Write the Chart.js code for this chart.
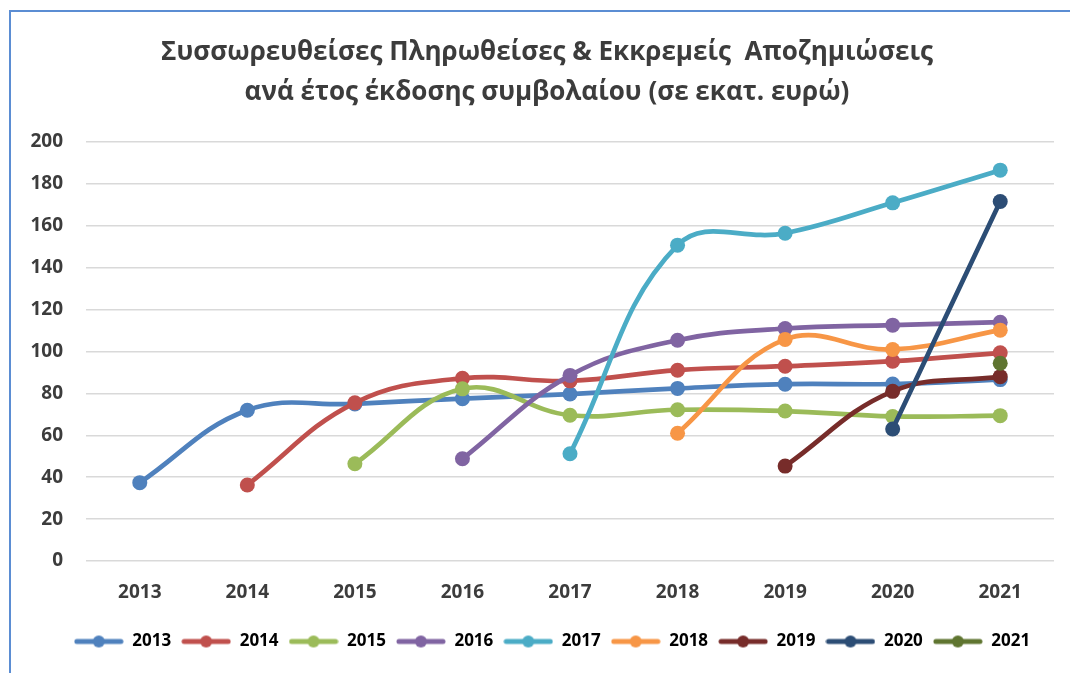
<!DOCTYPE html>
<html>
<head>
<meta charset="utf-8">
<script src="https://cdn.jsdelivr.net/npm/chart.js@4/dist/chart.umd.min.js"></script>
<style>
  html, body { margin: 0; padding: 0; background: #fff; }
  #wrap { position: relative; width: 1070px; height: 673px; }
  #frame {
    position: absolute; left: 9px; top: 10px; right: 0; bottom: 0;
    border-left: 2px solid #5b8dd3; border-top: 2px solid #5b8dd3;
    pointer-events: none;
  }
  canvas { position: absolute; left: 0; top: 0; }
</style>
</head>
<body>
<div id="wrap">
  <canvas id="my-chart" width="1070" height="673"></canvas>
  <div id="frame"></div>
</div>
<script>
const years = ["2013", "2014", "2015", "2016", "2017", "2018", "2019", "2020", "2021"];
const seriesNames = ["2013", "2014", "2015", "2016", "2017", "2018", "2019", "2020", "2021"];

// cumulative paid + outstanding per policy year (million EUR)
const s2013 = [37.4, 72.0, 75.0, 77.5, 79.7, 82.4, 84.4, 84.5, 86.6];
const s2014 = [null, 36.3, 75.5, 87.2, 86.0, 91.1, 93.0, 95.4, 99.4];
const s2015 = [null, null, 46.4, 82.2, 69.6, 72.2, 71.6, 69.0, 69.4];
const s2016 = [null, null, null, 48.8, 88.6, 105.4, 111.0, 112.6, 114.0];
const s2017 = [null, null, null, null, 51.2, 150.8, 156.5, 171.0, 186.6];
const s2018 = [null, null, null, null, null, 61.0, 105.8, 101.0, 110.2];
const s2019 = [null, null, null, null, null, null, 45.3, 81.0, 88.0];
const s2020 = [null, null, null, null, null, null, null, 63.0, 171.6];
const s2021 = [null, null, null, null, null, null, null, null, 94.4];

const allSeries = [s2013, s2014, s2015, s2016, s2017, s2018, s2019, s2020, s2021];
const colors = ["#4f81bd", "#c0504d", "#9bbb59", "#8064a2", "#4bacc6", "#f79646", "#772c2a", "#2c4d75", "#5f7530"];

const yTicks = [0, 20, 40, 60, 80, 100, 120, 140, 160, 180, 200];

const textColor = "#3c3c3c";
const fontFamily = "'Open Sans', 'DejaVu Sans', sans-serif";

// legend marker: line with a dot
function legendMarker(color) {
  const c = document.createElement("canvas");
  c.width = 50;
  c.height = 14;
  const g = c.getContext("2d");
  g.strokeStyle = color;
  g.lineWidth = 5;
  g.lineCap = "round";
  g.beginPath();
  g.moveTo(3, 7);
  g.lineTo(47, 7);
  g.stroke();
  g.fillStyle = color;
  g.beginPath();
  g.arc(25, 7, 6, 0, Math.PI * 2);
  g.fill();
  return c;
}

const datasets = allSeries.map((data, i) => ({
  label: seriesNames[i],
  data: data,
  borderColor: colors[i],
  backgroundColor: colors[i],
  borderWidth: 4.7,
  pointRadius: 7.5,
  pointBorderWidth: 0,
  pointBackgroundColor: colors[i],
  pointStyle: "circle",
  legendStyle: legendMarker(colors[i]),
  tension: 0.4,
  spanGaps: false,
  order: allSeries.length - i,
}));

// shift title / legend centre a bit to the right, like the original
const shiftBlocks = {
  id: "shiftBlocks",
  afterLayout(chart) {
    chart.titleBlock.left = 40;
    chart.legend.left = 50;
  },
};

const ctx = document.getElementById("my-chart").getContext("2d");
const chart = new Chart(ctx, {
  type: "line",
  data: { labels: years, datasets: datasets },
  plugins: [shiftBlocks],
  options: {
    responsive: false,
    animation: false,
    devicePixelRatio: 1,
    events: [],
    layout: { padding: { left: 0, right: 16, top: 0, bottom: 13 } },
    plugins: {
      tooltip: { enabled: false },
      title: {
        display: true,
        text: [
          "Συσσωρευθείσες Πληρωθείσες & Εκκρεμείς  Αποζημιώσεις",
          "ανά έτος έκδοσης συμβολαίου (σε εκατ. ευρώ)",
        ],
        color: textColor,
        font: { family: fontFamily, size: 26, weight: "bold", lineHeight: 1.54 },
        padding: { top: 33, bottom: 29 },
      },
      legend: {
        position: "bottom",
        labels: {
          usePointStyle: true,
          pointStyleWidth: 50,
          padding: 10,
          color: textColor,
          font: { family: fontFamily, size: 17, weight: "bold" },
          generateLabels: (chart) =>
            chart.data.datasets.map((d, i) => ({
              text: d.label,
              pointStyle: d.legendStyle,
              fillStyle: d.borderColor,
              strokeStyle: d.borderColor,
              lineWidth: 0,
              datasetIndex: i,
              hidden: false,
            })),
        },
      },
    },
    scales: {
      x: {
        offset: true,
        grid: { display: false, drawTicks: false, offset: true },
        border: { display: false },
        ticks: {
          color: textColor,
          padding: 20,
          font: { family: fontFamily, size: 19, weight: "bold" },
        },
        afterFit: (scale) => { scale.height = 62; },
      },
      y: {
        min: 0,
        max: 200,
        afterBuildTicks: (scale) => { scale.ticks = yTicks.map((v) => ({ value: v })); },
        grid: { color: "#d9d9d9", lineWidth: 1.5, drawTicks: false },
        border: { display: false },
        ticks: {
          color: textColor,
          padding: 23,
          font: { family: fontFamily, size: 19, weight: "bold" },
        },
        afterFit: (scale) => { scale.width = 86; },
      },
    },
  },
});
</script>
</body>
</html>
